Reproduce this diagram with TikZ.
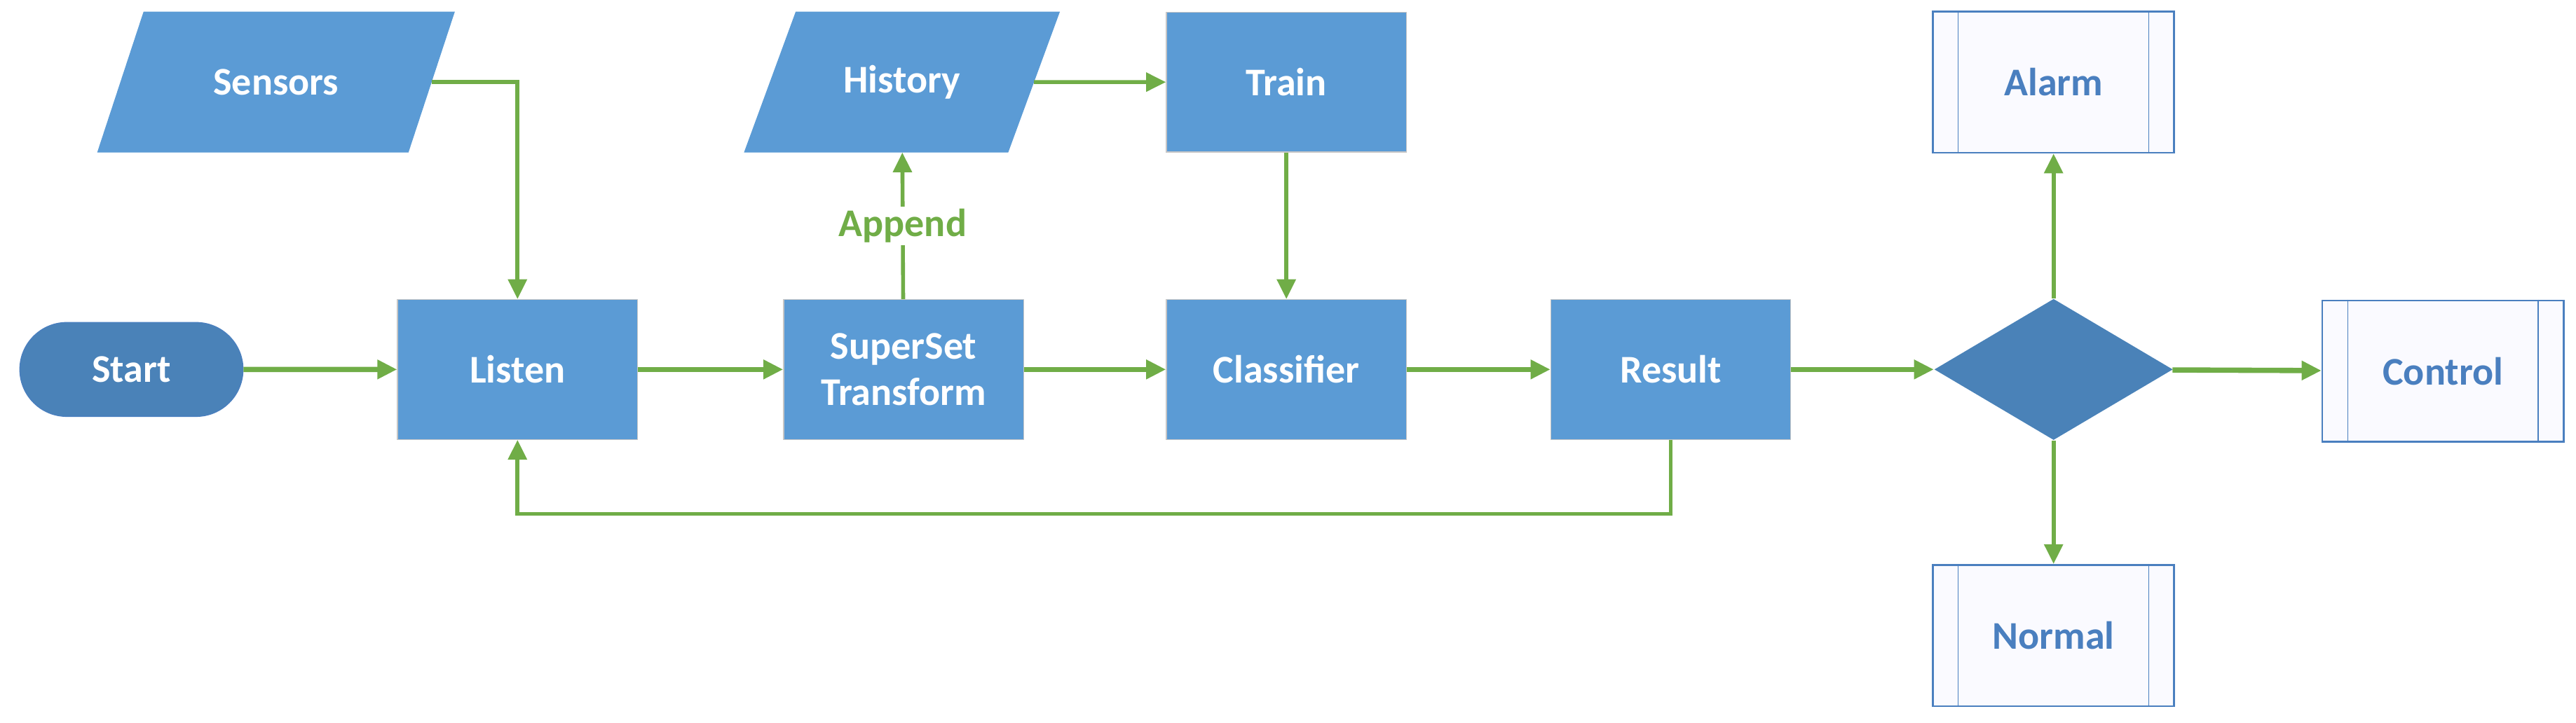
\documentclass[tikz,border=0pt]{standalone}
\usepackage{fontspec}
\setmainfont{Carlito}
\usetikzlibrary{arrows.meta}
\usetikzlibrary{positioning, calc}
\usetikzlibrary{shapes.geometric, shapes.misc}

\definecolor{boxblue}{HTML}{5B9BD5}
\definecolor{darkblue}{HTML}{4A82B8}
\definecolor{lineblue}{HTML}{4A7FBF}
\definecolor{flowgreen}{HTML}{70AD47}

\begin{document}
\begin{tikzpicture}[
    x=0.025cm, y=-0.025cm,
    every node/.style={font=\fontsize{17}{20}\selectfont\bfseries},
    stage/.style={draw=gray!45, fill=boxblue, text=white, minimum width=3.65cm, minimum height=2.13cm, align=center, inner sep=0pt},
    data/.style={trapezium, trapezium left angle=50, trapezium right angle=130, draw=boxblue, fill=boxblue, text=white, minimum height=2.13cm, inner sep=0pt, trapezium stretches=true},
    term/.style={rounded rectangle, draw=lineblue, fill=darkblue, text=white, minimum width=3.63cm, minimum height=1.43cm},
    choice/.style={diamond, fill=darkblue, minimum width=3.63cm, minimum height=2.15cm, inner sep=0pt},
    proc/.style={draw=lineblue, thick, fill=blue!2, text=lineblue, minimum width=3.67cm, minimum height=2.15cm},
    flow/.style={flowgreen, line width=1.7pt, -{Triangle[length=0.3cm, width=0.28cm]}},
    flow thick/.style={flow, line width=2.3pt}
]
    \useasboundingbox (0,0) rectangle (1568,440);

    \node[term] (start) at (80,225) {Start};
    \node[stage] (listen) at (315,225) {Listen};
    \node[stage] (superset) at (550,225) {SuperSet\\Transform};
    \node[stage] (classifier) at (783,225) {Classifier};
    \node[stage] (result) at (1017,225) {Result};
    \node[choice] (decide) at (1250,225) {};
    \node[proc] (control) at (1487,226) {Control};
    \node[proc] (alarm) at (1250,50) {Alarm};
    \node[proc] (normal) at (1250,387) {Normal};

    \node[data, minimum width=5.45cm] (sensors) at (168,50) {Sensors};
    \node[data, minimum width=4.8cm] (history) at (549,50) {History};
    \node[stage] (train) at (783,50) {Train};

    % side bars of the process boxes
    \foreach \n in {control, alarm, normal} {
        \draw[lineblue] ($(\n.north west)+(16,0)$) -- ($(\n.south west)+(16,0)$);
        \draw[lineblue] ($(\n.north east)-(16,0)$) -- ($(\n.south east)-(16,0)$);
    }

    \draw[flow thick] (start) -- (listen);
    \draw[flow thick] (listen) -- (superset);
    \draw[flow thick] (superset) -- (classifier);
    \draw[flow thick] (classifier) -- (result);
    \draw[flow thick] (result) -- (decide);
    \draw[flow thick] (decide) -- (control);
    \draw[flow] (decide) -- (alarm);
    \draw[flow] (decide) -- (normal);

    \draw[flow] (sensors.east) -| (listen.north);
    \draw[flow] (history.east) -- (train.west);
    \draw[flow] (train) -- (classifier);
    \draw[flow] (superset) -- node[fill=white, text=flowgreen, inner sep=1pt] {Append} (history);

    \draw[flow] (result.south) -- ++(0,45) coordinate (back) -| (listen.south);
\end{tikzpicture}
\end{document}
